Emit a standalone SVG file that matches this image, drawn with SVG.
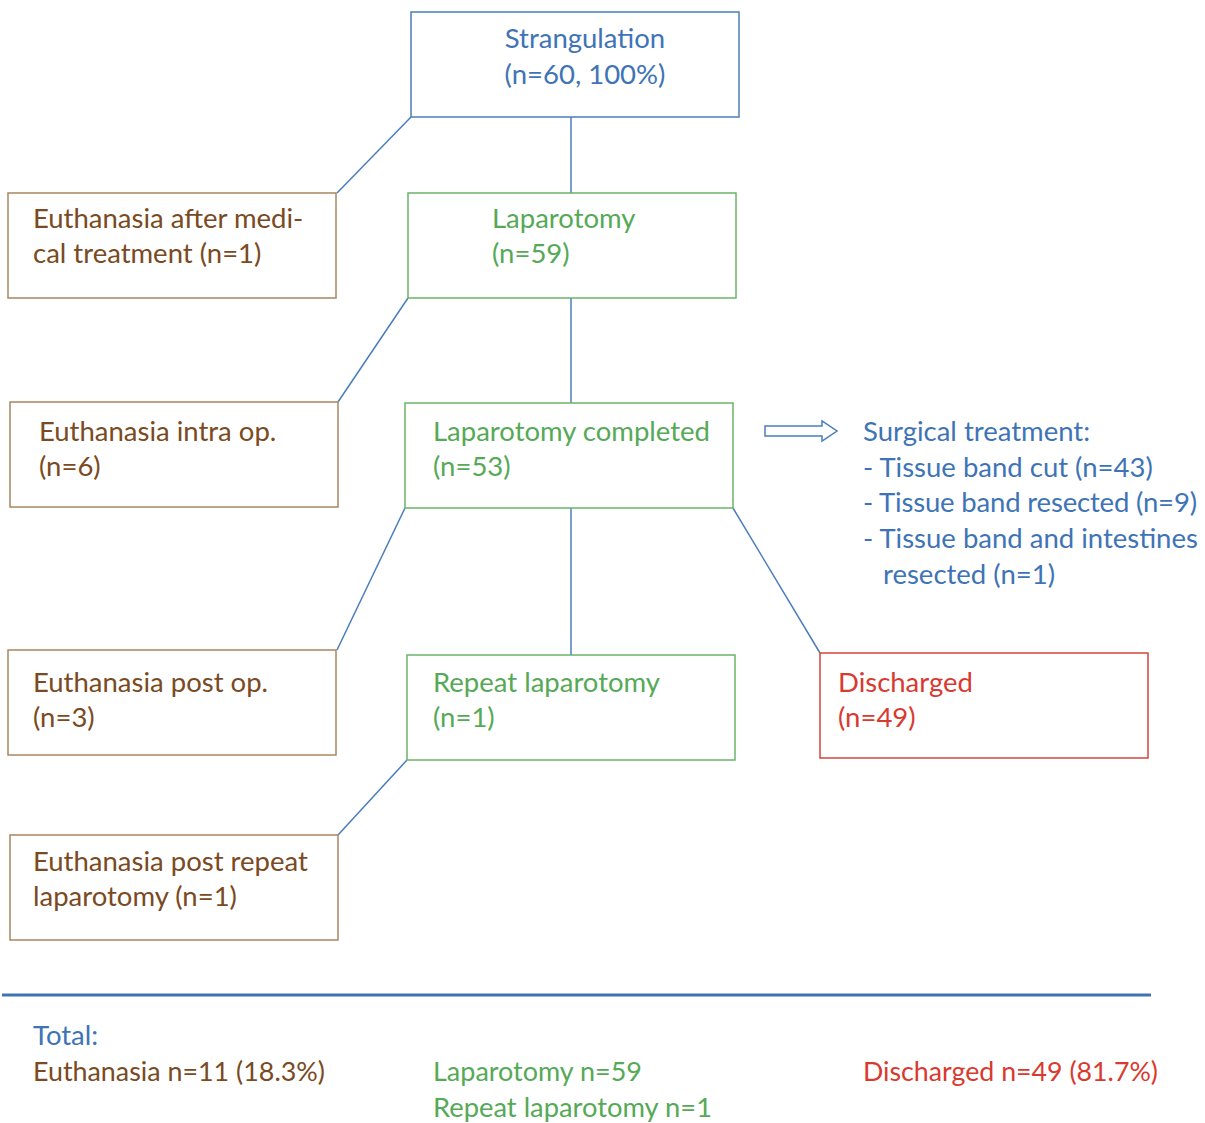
<svg xmlns="http://www.w3.org/2000/svg" width="1205" height="1123" viewBox="0 0 1205 1123">
<style>
text{font-family:Lato,"Open Sans","Liberation Sans",sans-serif;font-size:27.5px}
.box{fill:#fff;stroke-width:1.5}
.bb{stroke:#4a7ebb}.gb{stroke:#6ab46a}.nb{stroke:#a88660}.rb{stroke:#d4463d}
.bt{fill:#3e74b6}.gt{fill:#56a957}.nt{fill:#7a4a22}.rt{fill:#d93a30}
.c{stroke:#4a7ebb;stroke-width:1.5;fill:none}
.tot{font-size:27.5px}
</style>
<rect width="1205" height="1123" fill="#fff"/>
<g id="connectors">
<line class="c" x1="411" y1="117" x2="337" y2="193"/>
<line class="c" x1="571" y1="117" x2="571" y2="193"/>
<line class="c" x1="408" y1="298" x2="338" y2="402"/>
<line class="c" x1="571" y1="298" x2="571" y2="403"/>
<line class="c" x1="405" y1="508" x2="337" y2="650"/>
<line class="c" x1="571" y1="508" x2="571" y2="655"/>
<line class="c" x1="733" y1="508" x2="820" y2="653"/>
<line class="c" x1="407" y1="760" x2="338" y2="835"/>
<polygon class="c" points="765,426 822,426 822,421 837,431 822,441 822,436 765,436" stroke-width="2.2"/>
</g>
<g id="strangulation">
<rect class="box bb" x="411" y="12" width="328" height="105"/>
<text class="bt" x="585" y="48" text-anchor="middle">Strangulation</text>
<text class="bt" x="585" y="84" text-anchor="middle">(n=60, 100%)</text>
</g>
<g id="euth-medical">
<rect class="box nb" x="8" y="193" width="328" height="105"/>
<text class="nt" x="33" y="228">Euthanasia after medi-</text>
<text class="nt" x="33" y="263">cal treatment (n=1)</text>
</g>
<g id="laparotomy">
<rect class="box gb" x="408" y="193" width="328" height="105"/>
<text class="gt" x="492" y="228">Laparotomy</text>
<text class="gt" x="492" y="263">(n=59)</text>
</g>
<g id="euth-intra">
<rect class="box nb" x="10" y="402" width="328" height="105"/>
<text class="nt" x="39" y="441">Euthanasia intra op.</text>
<text class="nt" x="39" y="476">(n=6)</text>
</g>
<g id="lap-completed">
<rect class="box gb" x="405" y="403" width="328" height="105"/>
<text class="gt" x="433" y="441">Laparotomy completed</text>
<text class="gt" x="433" y="476">(n=53)</text>
</g>
<g id="surgical">
<text class="bt" x="863" y="441">Surgical treatment:</text>
<text class="bt" x="863" y="477">- Tissue band cut (n=43)</text>
<text class="bt" x="863" y="512" textLength="334">- Tissue band resected (n=9)</text>
<text class="bt" x="863" y="548">- Tissue band and intestines</text>
<text class="bt" x="883" y="584">resected (n=1)</text>
</g>
<g id="euth-postop">
<rect class="box nb" x="8" y="650" width="328" height="105"/>
<text class="nt" x="33" y="692">Euthanasia post op.</text>
<text class="nt" x="33" y="727">(n=3)</text>
</g>
<g id="repeat-lap">
<rect class="box gb" x="407" y="655" width="328" height="105"/>
<text class="gt" x="433" y="692">Repeat laparotomy</text>
<text class="gt" x="433" y="727">(n=1)</text>
</g>
<g id="discharged">
<rect class="box rb" x="820" y="653" width="328" height="105"/>
<text class="rt" x="838" y="692">Discharged</text>
<text class="rt" x="838" y="727">(n=49)</text>
</g>
<g id="euth-repeat">
<rect class="box nb" x="10" y="835" width="328" height="105"/>
<text class="nt" x="33" y="871">Euthanasia post repeat</text>
<text class="nt" x="33" y="906">laparotomy (n=1)</text>
</g>
<g id="totals">
<line x1="2" y1="995" x2="1151" y2="995" stroke="#3e74b6" stroke-width="3"/>
<text class="bt tot" x="33" y="1045">Total:</text>
<text class="nt tot" x="33" y="1081" textLength="292" lengthAdjust="spacingAndGlyphs">Euthanasia n=11 (18.3%)</text>
<text class="gt tot" x="433" y="1081" textLength="209" lengthAdjust="spacingAndGlyphs">Laparotomy n=59</text>
<text class="gt tot" x="433" y="1117" textLength="279" lengthAdjust="spacingAndGlyphs">Repeat laparotomy n=1</text>
<text class="rt tot" x="863" y="1081" textLength="295" lengthAdjust="spacingAndGlyphs">Discharged n=49 (81.7%)</text>
</g>
</svg>
